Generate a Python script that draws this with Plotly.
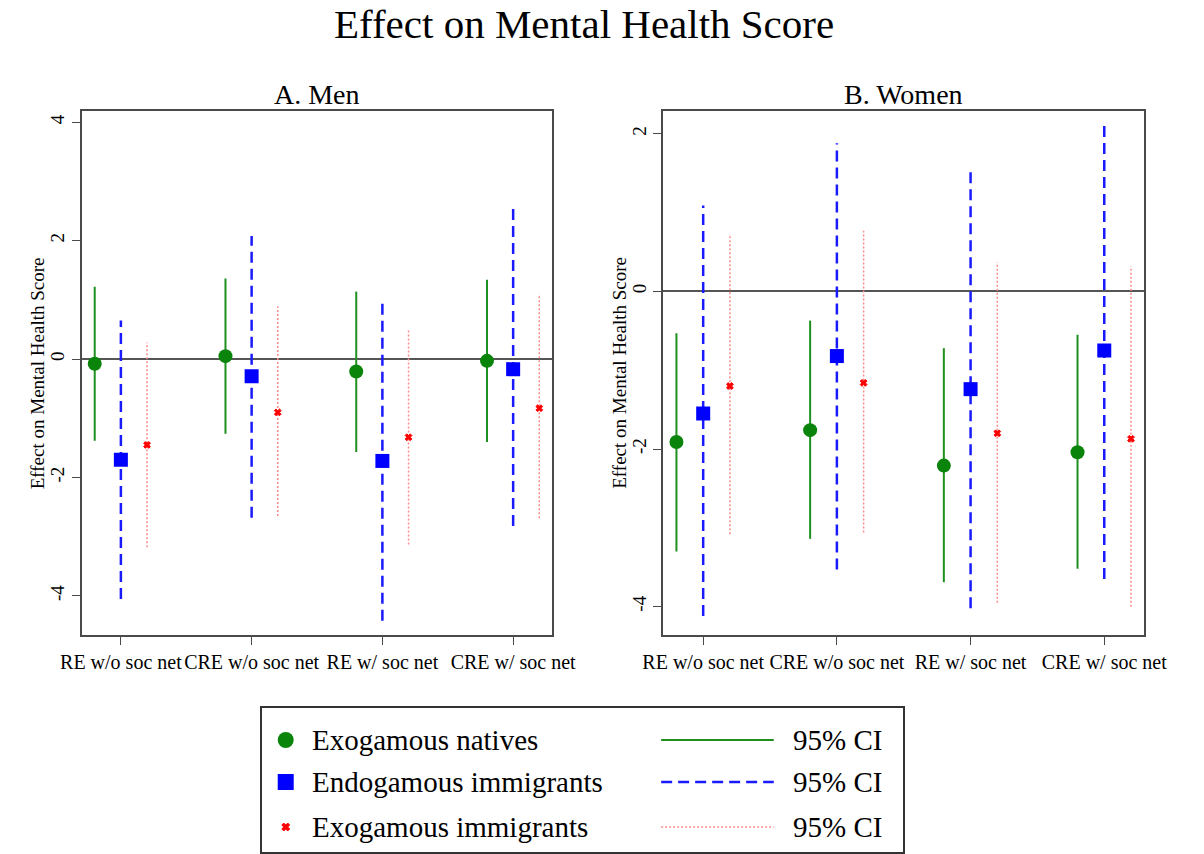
import plotly.graph_objects as go

W, H = 1204, 854
FONT = "Liberation Serif"

models = ["RE w/o soc net", "CRE w/o soc net", "RE w/ soc net", "CRE w/ soc net"]
positions = [1, 2, 3, 4]
group_names = ["Exogamous natives", "Endogamous immigrants", "Exogamous immigrants"]
y_ticks = [-4, -2, 0, 2, 4]
y_tick_text = ["-4", "-2", "0", "2", "4"]

# Panel A: men (point estimate, lower and upper 95% CI bound)
men_nat_est = [-0.08, 0.05, -0.21, -0.03]
men_nat_lo = [-1.38, -1.26, -1.57, -1.40]
men_nat_hi = [1.22, 1.36, 1.14, 1.34]
men_endo_est = [-1.70, -0.29, -1.72, -0.17]
men_endo_lo = [-4.05, -2.68, -4.42, -2.82]
men_endo_hi = [0.65, 2.08, 0.98, 2.58]
men_exo_est = [-1.45, -0.90, -1.32, -0.83]
men_exo_lo = [-3.18, -2.65, -3.13, -2.69]
men_exo_hi = [0.28, 0.89, 0.49, 1.10]

# Panel B: women
women_nat_est = [-1.91, -1.76, -2.21, -2.04]
women_nat_lo = [-3.30, -3.14, -3.69, -3.52]
women_nat_hi = [-0.53, -0.37, -0.72, -0.55]
women_endo_est = [-1.55, -0.82, -1.24, -0.75]
women_endo_lo = [-4.12, -3.53, -4.02, -3.65]
women_endo_hi = [1.09, 1.88, 1.55, 2.14]
women_exo_est = [-1.20, -1.16, -1.80, -1.87]
women_exo_lo = [-3.08, -3.06, -3.95, -4.00]
women_exo_hi = [0.73, 0.77, 0.37, 0.32]

# styling per group: horizontal offset, marker and CI line appearance
STYLES = [
    dict(offset=-0.2, color="#0b840b", symbol="circle", size=14,
         ci_color="#1f8f1f", ci_width=2, ci_dash="solid"),
    dict(offset=0.0, color="#0000ff", symbol="square", size=14,
         ci_color="#1a1aff", ci_width=2.5, ci_dash="11px,6px"),
    dict(offset=0.2, color="#ff0000", symbol="x", size=6,
         ci_color="#ff8a8a", ci_width=1.5, ci_dash="2px,2px"),
]

fig = go.Figure()


def marker_style(st, size):
    return dict(color=st["color"], symbol=st["symbol"], size=size,
                line=dict(width=1.0 if st["symbol"] == "x" else 0, color=st["color"]))


def add_group(est, lo, hi, style, xa, ya):
    xs = [p + style["offset"] for p in positions]
    lx, ly = [], []
    for x, a, b in zip(xs, lo, hi):
        lx += [x, x, None]
        ly += [a, b, None]
    fig.add_trace(go.Scatter(
        x=lx, y=ly, mode="lines", xaxis=xa, yaxis=ya, showlegend=False,
        line=dict(color=style["ci_color"], width=style["ci_width"], dash=style["ci_dash"]),
        hoverinfo="skip"))
    fig.add_trace(go.Scatter(
        x=xs, y=est, mode="markers", xaxis=xa, yaxis=ya, showlegend=False,
        marker=marker_style(style, style["size"])))


men = [(men_nat_est, men_nat_lo, men_nat_hi),
       (men_endo_est, men_endo_lo, men_endo_hi),
       (men_exo_est, men_exo_lo, men_exo_hi)]
women = [(women_nat_est, women_nat_lo, women_nat_hi),
         (women_endo_est, women_endo_lo, women_endo_hi),
         (women_exo_est, women_exo_lo, women_exo_hi)]

for (e, l, h), st in zip(men, STYLES):
    add_group(e, l, h, st, "x", "y")
for (e, l, h), st in zip(women, STYLES):
    add_group(e, l, h, st, "x2", "y2")


def px_x(a, b):
    return [a / W, b / W]


def px_y(top, bottom):
    return [1 - bottom / H, 1 - top / H]


AX_COLOR = "#4a4a4a"

common_x = dict(range=[0.7, 4.3], tickmode="array", tickvals=positions, ticktext=models,
                tickangle=0, ticks="outside", ticklen=8, tickwidth=1.3, tickcolor=AX_COLOR,
                showline=True, linecolor=AX_COLOR, linewidth=1.6, mirror=True,
                showgrid=False, zeroline=False,
                tickfont=dict(family=FONT, size=20, color="black"), fixedrange=True)
common_y = dict(ticks="outside", ticklen=8, tickwidth=1.3, tickcolor=AX_COLOR,
                showline=True, linecolor=AX_COLOR, linewidth=1.6, mirror=True,
                showgrid=False, zeroline=True, zerolinecolor="#555555", zerolinewidth=2,
                tickangle=-90, tickfont=dict(family=FONT, size=19, color="black"),
                tickmode="array", tickvals=y_ticks, ticktext=y_tick_text, fixedrange=True)

plot_top, plot_bottom = 111, 635

fig.update_layout(
    xaxis=dict(domain=px_x(63, 552), anchor="y", **common_x),
    yaxis=dict(domain=px_y(plot_top, plot_bottom), anchor="x", range=[-4.66, 4.19], **common_y),
    xaxis2=dict(domain=px_x(667, 1167), anchor="y2", **common_x),
    yaxis2=dict(domain=px_y(plot_top, plot_bottom), anchor="x2", range=[-4.36, 2.29], **common_y),
)

# Legend box drawn on its own axes (pixel-like units)
LEG_L, LEG_R, LEG_T, LEG_B = 250, 916, 708, 852
leg_w, leg_h = LEG_R - LEG_L, LEG_B - LEG_T
frame = dict(showline=True, linecolor="#333333", linewidth=1.6, mirror=True,
             showticklabels=False, ticks="", showgrid=False, zeroline=False, fixedrange=True)
fig.update_layout(
    xaxis3=dict(domain=px_x(LEG_L, LEG_R), anchor="y3", range=[0, leg_w], **frame),
    yaxis3=dict(domain=px_y(LEG_T, LEG_B), anchor="x3", range=[0, leg_h], **frame),
)

row_y = [leg_h - 32, leg_h - 74, leg_h - 119]
leg_marker_sizes = [16, 16, 7]
annotations = []
for name, st, yy, ms in zip(group_names, STYLES, row_y, leg_marker_sizes):
    fig.add_trace(go.Scatter(
        x=[25], y=[yy], mode="markers", xaxis="x3", yaxis="y3", showlegend=False,
        marker=marker_style(st, ms), hoverinfo="skip"))
    fig.add_trace(go.Scatter(
        x=[415, 532], y=[yy, yy], mode="lines", xaxis="x3", yaxis="y3", showlegend=False,
        line=dict(color=st["ci_color"], width=st["ci_width"], dash=st["ci_dash"]),
        hoverinfo="skip"))
    for xx, txt in ((50, name), (550, "95% CI")):
        annotations.append(dict(x=xx, y=yy, xref="x3", yref="y3", text=txt, showarrow=False,
                                xanchor="left", yanchor="middle",
                                font=dict(family=FONT, size=29, color="black")))

# Titles
annotations += [
    dict(x=585 / W, y=1 - 24 / H, xref="paper", yref="paper", text="Effect on Mental Health Score",
         showarrow=False, xanchor="center", yanchor="middle",
         font=dict(family=FONT, size=41, color="black")),
    dict(x=307.5 / W, y=1 - 94 / H, xref="paper", yref="paper", text="A. Men",
         showarrow=False, xanchor="center", yanchor="middle",
         font=dict(family=FONT, size=28, color="black")),
    dict(x=917 / W, y=1 - 94 / H, xref="paper", yref="paper", text="B. Women",
         showarrow=False, xanchor="center", yanchor="middle",
         font=dict(family=FONT, size=28, color="black")),
]
for xpix in (18, 622):
    annotations.append(dict(x=xpix / W, y=1 - 373 / H, xref="paper", yref="paper",
                            text="Effect on Mental Health Score", showarrow=False,
                            xanchor="center", yanchor="middle", textangle=-90,
                            font=dict(family=FONT, size=19, color="black")))

fig.update_layout(
    width=W, height=H,
    margin=dict(l=0, r=0, t=0, b=0),
    paper_bgcolor="white", plot_bgcolor="white",
    annotations=annotations,
    showlegend=False,
    font=dict(family=FONT, color="black"),
)

fig.write_html("out.html")
